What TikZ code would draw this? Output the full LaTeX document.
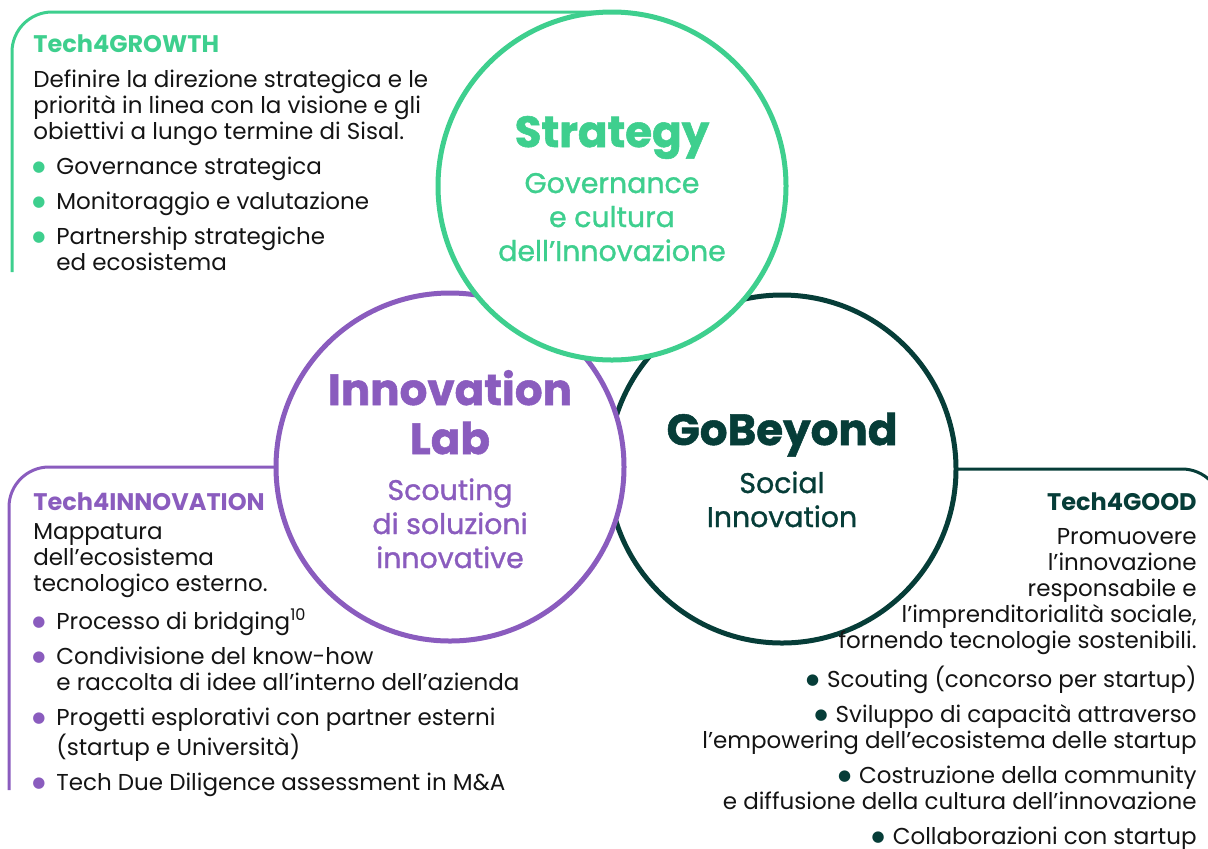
\documentclass[tikz,border=0pt]{standalone}
\usepackage{fontspec}
\setmainfont{Poppins}
\newfontfamily\dotfont{DejaVu Sans}
\newfontfamily\midfont[FakeBold=1.1]{Poppins}
\newfontfamily\heavyfont[FakeBold=1.2]{Poppins}
\usetikzlibrary{positioning}

\definecolor{growth}{HTML}{3ECF8E}
\definecolor{innov}{HTML}{8A5CBE}
\definecolor{good}{HTML}{063D38}
\definecolor{ink}{HTML}{141414}

\newcommand{\dotmark}[2][5.5pt]{\llap{\textcolor{#2}{\raisebox{1.2pt}{\dotfont\fontsize{7.5}{7.5}\selectfont ●}}\hspace{#1}}}
\newcommand{\lbul}[1]{\hspace*{11.5pt}\dotmark{#1}}
\newcommand{\lind}{\hspace*{11.5pt}}

\tikzset{
  ring/.style={circle, line width=2.5pt, fill=white, minimum size=174pt, inner sep=0pt, outer sep=0pt},
  frame/.style={line width=1.5pt, rounded corners=20pt},
  ctitle/.style={font=\heavyfont\bfseries\fontsize{21.8}{24.5}\selectfont, align=center, inner sep=0pt, anchor=base},
  csub/.style={font=\midfont\fontsize{14.2}{17}\selectfont, align=center, inner sep=0pt, anchor=base},
  head/.style={font=\bfseries\fontsize{12}{13}\selectfont, inner sep=0pt},
  body/.style={font=\fontsize{11.5}{13}\selectfont, text=ink, inner sep=0pt}
}

\begin{document}
\begin{tikzpicture}[x=0.5pt, y=-0.5pt]
  \useasboundingbox (0,0) rectangle (1208,848);
  \clip (0,0) rectangle (1208,848);

  % circles, back to front
  \node[ring, draw=good] (gob) at (782,469) {};
  \node[ring, draw=innov] (lab) at (450,467) {};
  \node[ring, draw=growth] (strat) at (612,186) {};

  % frames round the text blocks
  \coordinate (gend) at (12,272);
  \coordinate (iend) at (9,790);
  \coordinate (dend) at (1222,600);
  \draw[frame, growth] (strat.north) -| (gend);
  \draw[frame, innov] (lab.west) -| (iend);
  \draw[frame, good] (gob.east) -| (dend);

  % circle labels (base = last line)
  \node[ctitle, text=growth] (strtitle) at (612,147) {Strategy};
  \node[csub, text=growth] (strsub) at (612,261) {Governance\\e cultura\\dell’Innovazione};
  \node[ctitle, text=innov] (labtitle) at (450,454) {Innovation\\Lab};
  \node[csub, text=innov] (labsub) at (450,568) {Scouting\\di soluzioni\\innovative};
  \node[ctitle, text=good] (gobtitle) at (782,445) {GoBeyond};
  \node[csub, text=good] (gobsub) at (782,527) {Social\\Innovation};

  % Tech4GROWTH
  \node[head, text=growth, anchor=base west] (growthhead) at (33,52) {Tech4GROWTH};
  \node[body, align=left, below=109pt of growthhead.base west, anchor=base west] (growthtxt)
    {Definire la direzione strategica e le\\priorità in linea con la visione e gli\\obiettivi a lungo termine di Sisal.\\[4.5pt]
     \lbul{growth}Governance strategica\\[4.5pt]
     \lbul{growth}Monitoraggio e valutazione\\[4.5pt]
     \lbul{growth}Partnership strategiche\\\lind ed ecosistema};

  % Tech4INNOVATION
  \node[head, text=innov, anchor=base west] (innovhead) at (33,510) {Tech4INNOVATION};
  \node[body, align=left, below=140pt of innovhead.base west, anchor=base west] (innovtxt)
    {Mappatura\\dell’ecosistema\\tecnologico esterno.\\[4.5pt]
     \lbul{innov}Processo di bridging\textsuperscript{10}\\[4.5pt]
     \lbul{innov}Condivisione del know-how\\\lind e raccolta di idee all’interno dell’azienda\\[4.5pt]
     \lbul{innov}Progetti esplorativi con partner esterni\\\lind (startup e Università)\\[4.5pt]
     \lbul{innov}Tech Due Diligence assessment in M\&A};

  % Tech4GOOD
  \node[head, text=good, anchor=base east] (goodhead) at (1197,510) {Tech4GOOD};
  \node[body, align=right, below=167pt of goodhead.base east, anchor=base east] (goodtxt)
    {Promuovere\\l’innovazione\\responsabile e\\l’imprenditorialità sociale,\\fornendo tecnologie sostenibili.\\[4.5pt]
     \dotmark[4pt]{good}Scouting (concorso per startup)\\[4.5pt]
     \dotmark[4pt]{good}Sviluppo di capacità attraverso\\l’empowering dell’ecosistema delle startup\\[4.5pt]
     \dotmark[4pt]{good}Costruzione della community\\e diffusione della cultura dell’innovazione\\[4.5pt]
     \dotmark[4pt]{good}Collaborazioni con startup};
\end{tikzpicture}
\end{document}
